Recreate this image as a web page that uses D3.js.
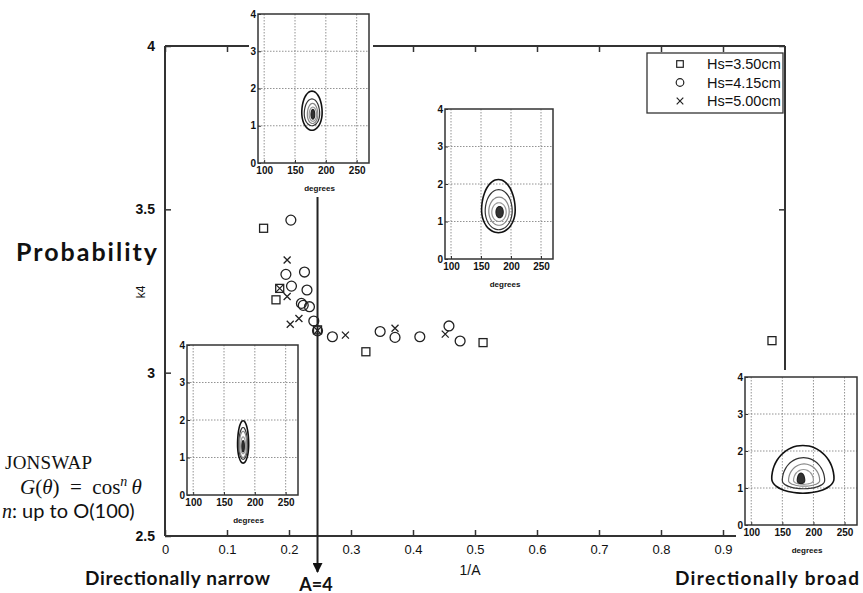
<!DOCTYPE html>
<html lang="en">
<head>
  <meta charset="UTF-8">
  <title>k4 vs 1/A</title>
  <script src="https://d3js.org/d3.v7.min.js"></script>
  <style>
    body { margin: 0; background: #fff; }
    svg { display: block; font-family: "Liberation Sans", Arial, sans-serif; }
    text { fill: #111; }
  </style>
</head>
<body>
<script>
var width = 863,
    height = 593;

// main axes
var xTicks = [0, 0.1, 0.2, 0.3, 0.4, 0.5, 0.6, 0.7, 0.8, 0.9];
var yTicks = [2.5, 3, 3.5, 4];

// Hs = 3.50cm (squares)
var sqX = [0.159, 0.185, 0.179, 0.246, 0.324, 0.513, 0.979];
var sqY = [3.442, 3.258, 3.223, 3.131, 3.064, 3.092, 3.098];
// Hs = 4.15cm (circles)
var ciX = [0.203, 0.195, 0.225, 0.204, 0.229, 0.220, 0.223, 0.233, 0.240, 0.246, 0.270, 0.347, 0.371, 0.411, 0.458, 0.476];
var ciY = [3.467, 3.301, 3.308, 3.265, 3.253, 3.212, 3.206, 3.202, 3.158, 3.128, 3.110, 3.126, 3.108, 3.110, 3.143, 3.097];
// Hs = 5.00cm (crosses)
var crX = [0.197, 0.185, 0.197, 0.216, 0.202, 0.246, 0.291, 0.371, 0.452];
var crY = [3.345, 3.258, 3.233, 3.166, 3.148, 3.129, 3.115, 3.136, 3.118];

var legendLabels = ["Hs=3.50cm", "Hs=4.15cm", "Hs=5.00cm"];
var legendShapes = ["square", "circle", "cross"];

// inset spectra: degrees / frequency axes
var degTicks = [100, 150, 200, 250];
var freqTicks = [0, 1, 2, 3, 4];
// contour rings per inset: [deg lo, deg hi, freq lo, freq hi, freq of widest point]
var ringsNarrowTop = [[161, 194, 0.88, 1.93, 1.35], [165, 190, 1.0, 1.72, 1.32], [170, 187, 1.06, 1.6, 1.3], [173, 185, 1.12, 1.5, 1.3], [176, 182, 1.18, 1.44, 1.3]];
var ringsMiddle = [[151, 207, 0.70, 2.12, 1.3], [157, 202, 0.78, 1.85, 1.28], [163, 197, 0.9, 1.65, 1.27], [168, 192, 1.0, 1.5, 1.25], [175, 187, 1.1, 1.4, 1.25]];
var ringsNarrow = [[172, 190, 0.85, 1.98, 1.35], [174, 188, 0.95, 1.8, 1.33], [175, 187, 1.0, 1.7, 1.32], [177, 185, 1.1, 1.55, 1.3], [179, 183, 1.15, 1.45, 1.3]];
var ringsBroad = [[133, 233, 0.86, 2.15, 1.25], [150, 218, 0.98, 1.82, 1.2], [160, 210, 1.05, 1.65, 1.2], [168, 200, 1.1, 1.5, 1.2], [174, 186, 1.12, 1.4, 1.2]];
var ringColors = ["#111", "#333", "#888", "#999", "#222"];

var svg = d3.select("body").append("svg")
    .attr("width", width)
    .attr("height", height);

var x = d3.scaleLinear().domain([0, 1]).range([165, 785]);
var y = d3.scaleLinear().domain([2.5, 4]).range([536, 46]);

// ---- main axes box
var axisColor = "#333";
svg.append("line").attr("x1", x(0)).attr("x2", x(0)).attr("y1", y(2.5)).attr("y2", y(4))
    .attr("stroke", axisColor).attr("stroke-width", 2);
svg.append("line").attr("x1", x(0)).attr("x2", x(1)).attr("y1", y(4)).attr("y2", y(4))
    .attr("stroke", axisColor).attr("stroke-width", 2);
svg.append("line").attr("x1", x(1)).attr("x2", x(1)).attr("y1", y(4)).attr("y2", y(2.5))
    .attr("stroke", axisColor).attr("stroke-width", 2);
svg.append("line").attr("x1", x(0)).attr("x2", x(1)).attr("y1", y(2.5)).attr("y2", y(2.5))
    .attr("stroke", axisColor).attr("stroke-width", 2);

var xAxisB = svg.append("g").attr("transform", "translate(0," + y(2.5) + ")")
    .call(d3.axisBottom(x).tickValues(xTicks).tickSizeInner(-6).tickSizeOuter(0).tickPadding(9)
      .tickFormat(function(d) { return d === 0 ? "0" : d3.format(".1f")(d); }));
var xAxisT = svg.append("g").attr("transform", "translate(0," + y(4) + ")")
    .call(d3.axisTop(x).tickValues(xTicks).tickSizeInner(-6).tickSizeOuter(0).tickFormat(""));
var yAxisL = svg.append("g").attr("transform", "translate(" + x(0) + ",0)")
    .call(d3.axisLeft(y).tickValues(yTicks).tickSizeInner(-6).tickSizeOuter(0).tickPadding(10)
      .tickFormat(function(d) { return d % 1 === 0 ? d3.format("d")(d) : d3.format(".1f")(d); }));
var yAxisR = svg.append("g").attr("transform", "translate(" + x(1) + ",0)")
    .call(d3.axisRight(y).tickValues(yTicks).tickSizeInner(-6).tickSizeOuter(0).tickFormat(""));

[xAxisB, xAxisT, yAxisL, yAxisR].forEach(function(a) {
  a.select(".domain").remove();
  a.selectAll("line").attr("stroke", axisColor).attr("stroke-width", 1.5);
});
xAxisB.selectAll("text").attr("font-size", 13).attr("font-family", "Liberation Sans").attr("fill", "#222");
yAxisL.selectAll("text").attr("font-size", 14).attr("font-weight", "bold").attr("font-family", "Liberation Sans").attr("fill", "#111");

svg.append("text").attr("x", 470).attr("y", 575).attr("text-anchor", "middle")
    .attr("font-size", 14).text("1/A");
svg.append("text").attr("transform", "translate(145,292) rotate(-90)").attr("text-anchor", "middle")
    .attr("font-size", 12).text("k4");

// ---- scatter
var mk = svg.append("g").attr("fill", "none").attr("stroke", "#222").attr("stroke-width", 1.3);

function drawMarker(g, shape, cx, cy, s) {
  if (shape === "square") {
    g.append("rect").attr("x", cx - s).attr("y", cy - s).attr("width", 2 * s).attr("height", 2 * s);
  } else if (shape === "circle") {
    g.append("circle").attr("cx", cx).attr("cy", cy).attr("r", s * 1.15);
  } else {
    g.append("path").attr("d", "M" + (cx - s) + "," + (cy - s) + "L" + (cx + s) + "," + (cy + s) +
      "M" + (cx - s) + "," + (cy + s) + "L" + (cx + s) + "," + (cy - s));
  }
}
sqX.forEach(function(v, i) { drawMarker(mk, "square", x(v), y(sqY[i]), 4); });
ciX.forEach(function(v, i) { drawMarker(mk, "circle", x(v), y(ciY[i]), 4.3); });
crX.forEach(function(v, i) { drawMarker(mk, "cross", x(v), y(crY[i]), 3.5); });

// ---- arrow at A=4
svg.append("defs").append("marker").attr("id", "ah")
    .attr("viewBox", "0 0 10 10").attr("refX", 9).attr("refY", 5)
    .attr("markerWidth", 10).attr("markerHeight", 10).attr("markerUnits", "userSpaceOnUse")
    .attr("orient", "auto")
  .append("path").attr("d", "M0,0L10,5L0,10Z").attr("fill", "#111");
svg.append("line").attr("x1", x(0.246)).attr("x2", x(0.246)).attr("y1", 197).attr("y2", 572)
    .attr("stroke", "#222").attr("stroke-width", 2).attr("marker-end", "url(#ah)");

// ---- inset spectra
function inset(box, rings) {
  var g = svg.append("g");
  g.append("rect").attr("x", box.x - 9).attr("y", box.y - 7)
      .attr("width", box.w + 13).attr("height", box.h + 40).attr("fill", "#fff");
  var ix = d3.scaleLinear().domain([90, 270]).range([box.x, box.x + box.w]);
  var iy = d3.scaleLinear().domain([0, 4]).range([box.y + box.h, box.y]);

  // dotted grid
  g.selectAll(".gx").data(degTicks).enter().append("line")
      .attr("x1", function(d) { return ix(d); }).attr("x2", function(d) { return ix(d); })
      .attr("y1", box.y).attr("y2", box.y + box.h)
      .attr("stroke", "#777").attr("stroke-width", 0.8).attr("stroke-dasharray", "1.5,1.5");
  g.selectAll(".gy").data(freqTicks.slice(1, 4)).enter().append("line")
      .attr("x1", box.x).attr("x2", box.x + box.w)
      .attr("y1", function(d) { return iy(d); }).attr("y2", function(d) { return iy(d); })
      .attr("stroke", "#777").attr("stroke-width", 0.8).attr("stroke-dasharray", "1.5,1.5");

  // contour rings
  var ringLine = d3.line().curve(d3.curveCatmullRomClosed);
  rings.forEach(function(r, i) {
    var cx = (r[0] + r[1]) / 2, rx = (r[1] - r[0]) / 2;
    var pts = d3.range(0, 2 * Math.PI, Math.PI / 16).map(function(t) {
      var s = Math.sin(t);
      var fy = s > 0 ? r[4] + (r[3] - r[4]) * s : r[4] + (r[4] - r[2]) * s;
      return [ix(cx + rx * Math.cos(t)), iy(fy)];
    });
    g.append("path").attr("d", ringLine(pts))
        .attr("fill", i === rings.length - 1 ? "#333" : "none")
        .attr("stroke", ringColors[i]).attr("stroke-width", i === 0 ? 1.6 : 1.2);
  });

  // box
  g.append("rect").attr("x", box.x).attr("y", box.y).attr("width", box.w).attr("height", box.h)
      .attr("fill", "none").attr("stroke", "#333").attr("stroke-width", 1.5);

  var ax = g.append("g").attr("transform", "translate(0," + (box.y + box.h) + ")")
      .call(d3.axisBottom(ix).tickValues(degTicks).tickSizeInner(-3).tickSizeOuter(0).tickPadding(4));
  var ay = g.append("g").attr("transform", "translate(" + box.x + ",0)")
      .call(d3.axisLeft(iy).tickValues(freqTicks).tickSizeInner(-3).tickSizeOuter(0).tickPadding(2)
        .tickFormat(d3.format("d")));
  [ax, ay].forEach(function(a) {
    a.select(".domain").remove();
    a.selectAll("line").attr("stroke", "#333");
    a.selectAll("text").attr("font-size", 10).attr("font-weight", "bold")
        .attr("font-family", "Liberation Sans").attr("fill", "#222");
  });
  g.append("text").attr("x", box.x + box.w / 2 + 6).attr("y", box.y + box.h + 28)
      .attr("text-anchor", "middle").attr("font-size", 8).attr("font-weight", "bold").text("degrees");
}

inset({x: 258, y: 14, w: 111, h: 149}, ringsNarrowTop);
inset({x: 445, y: 109, w: 108, h: 150}, ringsMiddle);
inset({x: 187, y: 345, w: 111, h: 150}, ringsNarrow);
inset({x: 745, y: 377, w: 112, h: 148}, ringsBroad);

// ---- legend
var lg = svg.append("g");
lg.append("rect").attr("x", 647).attr("y", 53).attr("width", 136).attr("height", 60)
    .attr("fill", "#fff").attr("stroke", "#333").attr("stroke-width", 1.3);
legendLabels.forEach(function(lab, i) {
  var ly = 64 + i * 18.5;
  var mg = lg.append("g").attr("fill", "none").attr("stroke", "#222").attr("stroke-width", 1.2);
  drawMarker(mg, legendShapes[i], 680, ly, 3.3);
  lg.append("text").attr("x", 707).attr("y", ly + 5).attr("font-size", 14.5).text(lab);
});

// ---- annotations
svg.append("text").attr("x", 16).attr("y", 261).attr("font-family", "Lato").attr("font-weight", "bold")
    .attr("font-size", 25).attr("textLength", 141).text("Probability");
svg.append("text").attr("x", 5).attr("y", 469).attr("font-family", "Liberation Serif")
    .attr("font-size", 19).attr("textLength", 87).text("JONSWAP");
var gt = svg.append("text").attr("x", 20).attr("y", 494).attr("font-family", "Liberation Serif")
    .attr("font-size", 21);
gt.append("tspan").attr("font-style", "italic").text("G");
gt.append("tspan").text("(");
gt.append("tspan").attr("font-style", "italic").text("θ");
gt.append("tspan").text(")\u2002=\u2002cos");
gt.append("tspan").attr("font-style", "italic").attr("dy", -8).attr("font-size", 14).text("n");
gt.append("tspan").attr("font-style", "italic").attr("dy", 8).text("\u2009θ");
var nt = svg.append("text").attr("x", 2).attr("y", 518).attr("font-size", 20);
nt.append("tspan").attr("font-family", "Liberation Serif").attr("font-style", "italic").text("n");
nt.append("tspan").attr("font-family", "Lato").text(": up to O(100)");
svg.append("text").attr("x", 85).attr("y", 585).attr("font-family", "Lato").attr("font-weight", "bold")
    .attr("font-size", 19).attr("textLength", 185).text("Directionally narrow");
svg.append("text").attr("x", 675).attr("y", 585).attr("font-family", "Lato").attr("font-weight", "bold")
    .attr("font-size", 19).attr("textLength", 184).text("Directionally broad");
svg.append("text").attr("x", 316).attr("y", 591).attr("text-anchor", "middle").attr("font-family", "Lato")
    .attr("font-weight", "bold").attr("font-size", 18).text("A=4");
</script>
</body>
</html>
